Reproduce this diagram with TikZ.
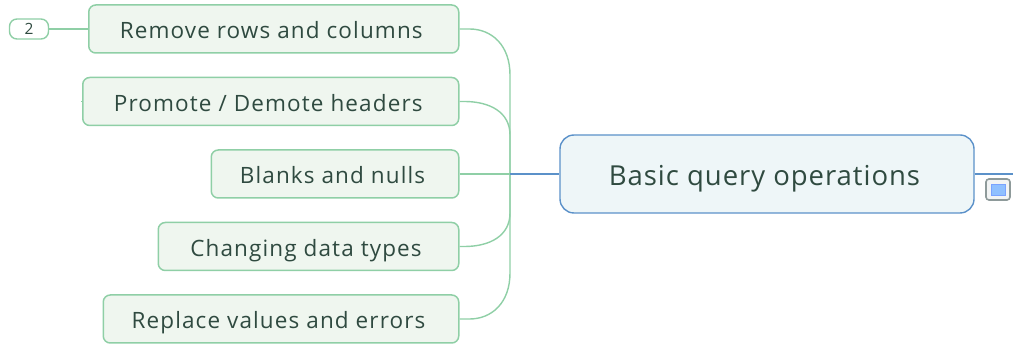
\documentclass[tikz,border=0pt]{standalone}
\usepackage{fontspec}
\setmainfont{Open Sans}
\newfontfamily\subfont[LetterSpace=5]{Open Sans}
\newfontfamily\mainfont[LetterSpace=3.5]{Open Sans}
\definecolor{gline}{HTML}{8FCFA6}
\definecolor{gfill}{HTML}{EFF6EF}
\definecolor{gtext}{HTML}{2F4A40}
\definecolor{bline}{HTML}{5B91C9}
\definecolor{bfill}{HTML}{EEF6F8}
\definecolor{iconline}{HTML}{8E9A9A}
\definecolor{iconfill}{HTML}{F2F4F4}
\definecolor{iconblue}{HTML}{8FC0FF}
\tikzset{
 x=1pt,y=-1pt,
 sub/.style={draw=gline,fill=gfill,line width=1.5pt,rounded corners=7pt,anchor=east,minimum height=48pt,inner sep=0pt,font=\subfont\fontsize{22.5pt}{25pt}\selectfont,text=gtext,text height=20pt,text depth=0pt,execute at end node={\kern5pt}},
 conn/.style={draw=gline,line width=1.4pt},
 bconn/.style={draw=bline,line width=1.1pt},
 main/.style={draw=bline,fill=bfill,line width=1.4pt,rounded corners=14pt,minimum width=414pt,minimum height=78pt,inner sep=0pt,font=\mainfont\fontsize{27.5pt}{30pt}\selectfont,text=gtext,text height=24pt,text depth=0pt,execute at end node={\kern5pt}},
 badge/.style={draw=gline,fill=white,line width=1.4pt,rounded corners=7.5pt,minimum width=39pt,minimum height=20pt,inner sep=0pt,font=\fontsize{15.5pt}{18pt}\selectfont,text=gtext}
}
\begin{document}
\begin{tikzpicture}
\useasboundingbox (0,0) rectangle (1013,344);
\node[main] (m) at (767,174) {Basic query operations};
\node[sub,minimum width=370pt] (a) at (459.5,29) {Remove rows and columns};
\node[sub,minimum width=376pt] (b) at (459.5,101.5) {Promote / Demote headers};
\node[sub,minimum width=247.5pt] (c) at (459.5,174) {Blanks and nulls};
\node[sub,minimum width=300.5pt] (d) at (459.5,246.5) {Changing data types};
\node[sub,minimum width=355.5pt] (e) at (459.5,319) {Replace values and errors};
\node[badge] (n) at (29,29) {2};
\coordinate (j) at (510,174);
\coordinate (r) at (1013,174);
\coordinate (tick) at (81,101.5);
\draw[conn] (n.east) -- (a.west);
\draw[conn] (tick) -- (b.west);
\draw[conn] (a.east) -- ++(10,0) .. controls +(22,0) and (510,45) .. (510,75) -- (j);
\draw[conn] (b.east) -- ++(5,0) .. controls +(25,0) and (510,112) .. (510,135) -- (j);
\draw[conn] (c.east) -- (j);
\draw[conn] (d.east) -- ++(5,0) .. controls +(25,0) and (510,236) .. (510,213) -- (j);
\draw[conn] (e.east) -- ++(10,0) .. controls +(22,0) and (510,303) .. (510,273) -- (j);
\draw[bconn] (j) -- (m.west);
\draw[bconn] (m.east) -- (r);
\node[draw=iconline,fill=iconfill,line width=1.6pt,rounded corners=3pt,minimum width=24pt,minimum height=21pt,inner sep=0pt] (icon) at (998,189.5) {};
\node[draw=iconblue!85!blue,fill=iconblue,line width=.6pt,minimum width=14pt,minimum height=11pt,inner sep=0pt] (iconin) at (icon.center) {};
\end{tikzpicture}
\end{document}
